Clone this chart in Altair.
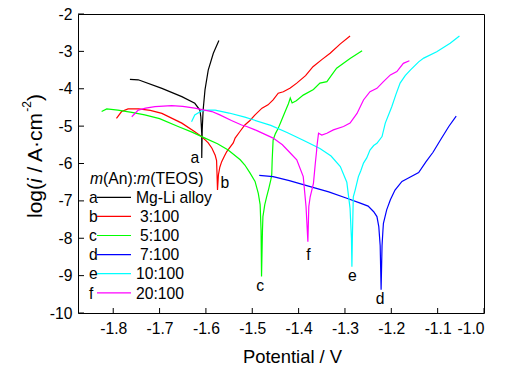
import altair as alt
import pandas as pd

FONT = "Arial"

# ---------------- data ----------------
series_names = ["a", "b", "c", "d", "e", "f"]
legend_labels = ["Mg-Li alloy", "3:100", "5:100", "7:100", "10:100", "20:100"]
colors = ["#000000", "#FF0000", "#00FF00", "#0000FF", "#00FFFF", "#FF00FF"]

a_x = [-1.764, -1.746, -1.695, -1.652, -1.624, -1.613, -1.611, -1.609, -1.609, -1.608, -1.606, -1.602, -1.595, -1.584, -1.572]
a_y = [-3.75, -3.76, -3.99, -4.21, -4.39, -4.57, -4.75, -5.20, -5.85, -5.10, -4.57, -4.03, -3.50, -3.05, -2.71]

b_x = [-1.793, -1.782, -1.768, -1.745, -1.720, -1.695, -1.652, -1.624, -1.609, -1.595, -1.587, -1.580, -1.577,
       -1.576, -1.575, -1.573, -1.570, -1.566, -1.560, -1.555, -1.541, -1.537, -1.527, -1.516, -1.505, -1.494,
       -1.479, -1.466, -1.455, -1.444, -1.433, -1.418, -1.404, -1.385, -1.369, -1.350, -1.332, -1.310, -1.289]
b_y = [-4.79, -4.61, -4.54, -4.54, -4.58, -4.66, -4.92, -5.15, -5.28, -5.45, -5.59, -5.78, -5.92,
       -6.30, -6.71, -6.30, -6.10, -5.95, -5.80, -5.68, -5.45, -5.32, -5.15, -4.97, -4.85, -4.70,
       -4.52, -4.43, -4.30, -4.12, -4.08, -3.98, -3.85, -3.65, -3.41, -3.22, -3.05, -2.80, -2.59]

c_x = [-1.825, -1.814, -1.790, -1.760, -1.732, -1.700, -1.660, -1.630, -1.602, -1.575, -1.552, -1.526, -1.516,
       -1.505, -1.494, -1.487, -1.483, -1.481, -1.480, -1.478, -1.477, -1.473, -1.469, -1.464, -1.460, -1.458,
       -1.457, -1.455, -1.450, -1.444, -1.437, -1.429, -1.422, -1.418, -1.414, -1.405, -1.390, -1.368, -1.354,
       -1.339, -1.318, -1.289, -1.263]
c_y = [-4.61, -4.54, -4.57, -4.63, -4.70, -4.80, -5.01, -5.16, -5.32, -5.47, -5.64, -5.90, -6.04,
       -6.25, -6.48, -6.80, -7.10, -7.80, -9.02, -7.80, -7.42, -7.10, -6.89, -6.65, -6.44, -6.30,
       -5.90, -5.37, -5.20, -5.06, -4.85, -4.61, -4.40, -4.25, -4.38, -4.32, -4.17, -4.02, -3.85,
       -3.81, -3.45, -3.19, -2.98]

d_x = [-1.485, -1.455, -1.420, -1.375, -1.335, -1.296, -1.267, -1.250, -1.238, -1.231, -1.227, -1.224, -1.222,
       -1.220, -1.218, -1.217, -1.210, -1.202, -1.192, -1.177, -1.165, -1.141, -1.125, -1.110, -1.094, -1.076, -1.060]
d_y = [-6.32, -6.35, -6.46, -6.62, -6.76, -6.93, -7.06, -7.14, -7.29, -7.42, -7.69, -8.20, -9.38,
       -8.20, -7.78, -7.60, -7.24, -6.97, -6.71, -6.48, -6.40, -6.24, -5.95, -5.70, -5.37, -5.01, -4.73]

e_x = [-1.631, -1.624, -1.609, -1.595, -1.580, -1.550, -1.516, -1.498, -1.460, -1.425, -1.390, -1.354, -1.330,
       -1.310, -1.296, -1.289, -1.286, -1.285, -1.284, -1.282, -1.278, -1.271, -1.266, -1.260, -1.253, -1.246,
       -1.238, -1.231, -1.220, -1.213, -1.199, -1.190, -1.181, -1.170, -1.159, -1.141, -1.130, -1.102, -1.073, -1.053]
e_y = [-4.88, -4.70, -4.59, -4.57, -4.57, -4.65, -4.76, -4.83, -4.98, -5.17, -5.38, -5.60, -5.80,
       -6.08, -6.50, -7.20, -8.00, -8.76, -8.00, -6.89, -6.71, -6.35, -6.20, -5.99, -5.85, -5.64,
       -5.52, -5.46, -5.28, -4.92, -4.48, -4.15, -3.85, -3.65, -3.50, -3.28, -3.18, -3.01, -2.78, -2.59]

f_x = [-1.760, -1.746, -1.730, -1.710, -1.674, -1.650, -1.624, -1.587, -1.570, -1.545, -1.523, -1.512, -1.490,
       -1.455, -1.435, -1.418, -1.404, -1.390, -1.384, -1.380, -1.378, -1.375, -1.368, -1.364, -1.361, -1.361,
       -1.357, -1.350, -1.339, -1.325, -1.303, -1.289, -1.274, -1.260, -1.246, -1.231, -1.217, -1.202, -1.188,
       -1.174, -1.161]
f_y = [-4.75, -4.57, -4.52, -4.48, -4.45, -4.47, -4.52, -4.61, -4.70, -4.85, -4.97, -5.01, -5.12,
       -5.32, -5.50, -5.72, -5.90, -6.35, -7.15, -8.09, -7.15, -6.89, -6.53, -6.00, -5.64, -5.59,
       -5.19, -5.24, -5.19, -5.10, -5.01, -4.92, -4.66, -4.30, -4.08, -3.99, -3.81, -3.63, -3.54,
       -3.32, -3.25]

# curve annotation letters
ann_text = ["a", "b", "c", "d", "e", "f"]
ann_x = [-1.624, -1.559, -1.483, -1.224, -1.284, -1.379]
ann_y = [-5.86, -6.51, -9.27, -9.63, -9.00, -8.44]

x_ticks = [-1.8, -1.7, -1.6, -1.5, -1.4, -1.3, -1.2, -1.1, -1.0]
y_ticks = [-10, -9, -8, -7, -6, -5, -4, -3, -2]

# ---------------- build tables ----------------
xs_all = [a_x, b_x, c_x, d_x, e_x, f_x]
ys_all = [a_y, b_y, c_y, d_y, e_y, f_y]
rows = []
for name, xs, ys in zip(series_names, xs_all, ys_all):
    for i, (xv, yv) in enumerate(zip(xs, ys)):
        rows.append({"series": name, "idx": i, "potential": xv, "logi": yv})
df = pd.DataFrame(rows)
ann_df = pd.DataFrame({"label": ann_text, "potential": ann_x, "logi": ann_y})

W, H = 406, 299
xscale = alt.Scale(domain=[-1.876, -1.0], nice=False, zero=False)
yscale = alt.Scale(domain=[-10, -2], nice=False, zero=False)
cscale = alt.Scale(domain=series_names, range=colors)

x_axis = alt.Axis(values=x_ticks, grid=False, ticks=False, domain=False, labelOverlap=False,
                  labelExpr="datum.value < 0 ? '-' + format(-datum.value, '.1f') : format(datum.value, '.1f')",
                  labelFont=FONT, labelFontSize=15.7, labelColor="black", labelPadding=8,
                  title="Potential / V", titleFont=FONT, titleFontSize=18.4,
                  titleFontWeight="normal", titleColor="black",
                  titleX=214, titleY=49, titleBaseline="alphabetic", titleAlign="center")
y_axis = alt.Axis(values=y_ticks, grid=False, ticks=False, domain=False, labelOverlap=False,
                  labelExpr="datum.value < 0 ? '-' + format(-datum.value, 'd') : format(datum.value, 'd')",
                  labelFont=FONT, labelFontSize=15.7, labelColor="black", labelPadding=6,
                  title="")

X = alt.X("potential:Q", scale=xscale, axis=x_axis)
Y = alt.Y("logi:Q", scale=yscale, axis=y_axis)

lines = alt.Chart(df).mark_line(strokeWidth=1.2, clip=True).encode(
    x=X, y=Y,
    color=alt.Color("series:N", scale=cscale, legend=None),
    order=alt.Order("idx:Q"),
)

xt = alt.Chart(pd.DataFrame({"potential": x_ticks})).mark_rule(color="black", strokeWidth=1).encode(
    x=X, y=alt.value(H), y2=alt.value(H - 5))
yt = alt.Chart(pd.DataFrame({"logi": y_ticks})).mark_rule(color="black", strokeWidth=1).encode(
    y=Y, x=alt.value(0), x2=alt.value(6))

ann = alt.Chart(ann_df).mark_text(font=FONT, fontSize=15.7, color="black", align="center",
                                   baseline="middle").encode(x=X, y=Y, text="label:N")


def txt(s, x, y, size, style="normal", angle=0, align="left", baseline="alphabetic"):
    return alt.Chart(pd.DataFrame({"s": [s]})).mark_text(
        font=FONT, fontSize=size, fontStyle=style, angle=angle, align=align,
        baseline=baseline, color="black").encode(x=alt.value(x), y=alt.value(y), text="s:N")


layers = [lines, xt, yt, ann]

# y-axis title: log(i / A·cm^-2)
yb = -36.3
layers += [
    txt("log(", yb, 204, 21, angle=270),
    txt("i", yb, 169, 21, style="italic", angle=270),
    txt("/ A·cm", yb, 158.5, 21, angle=270),
    txt("-2", -47, 97.8, 12, angle=270),
    txt(")", yb, 87.1, 21, angle=270),
]

# legend title: m(An):m(TEOS)
lb = 169.5
layers += [
    txt("m", 12, lb, 15.7, style="italic"),
    txt("(An):", 25.1, lb, 15.7),
    txt("m", 59.1, lb, 15.7, style="italic"),
    txt("(TEOS)", 72.2, lb, 15.7),
]

# legend rows
for i, (letter, lab, col) in enumerate(zip(series_names, legend_labels, colors)):
    base = 189 + 19.1 * i
    ly = 183.3 + 19.1 * i
    layers.append(txt(letter, 11, base, 15.7))
    layers.append(alt.Chart(pd.DataFrame({"s": [lab]})).mark_rule(strokeWidth=1.2).encode(
        x=alt.value(19), x2=alt.value(53), y=alt.value(ly), color=alt.value(col)))
    lx = 58 if len(lab) != 5 else 62
    layers.append(txt(lab, lx, base, 15.7))

chart = alt.layer(*layers).properties(
    width=W, height=H,
    autosize=alt.AutoSizeParams(type="none"),
    padding={"left": 78, "top": 14, "right": 28, "bottom": 62},
    background="white",
).configure_view(stroke="black", strokeWidth=1).configure_axis(labelOverlap=False)

chart.save("out.html", embed_options={"renderer": "svg", "actions": False})
